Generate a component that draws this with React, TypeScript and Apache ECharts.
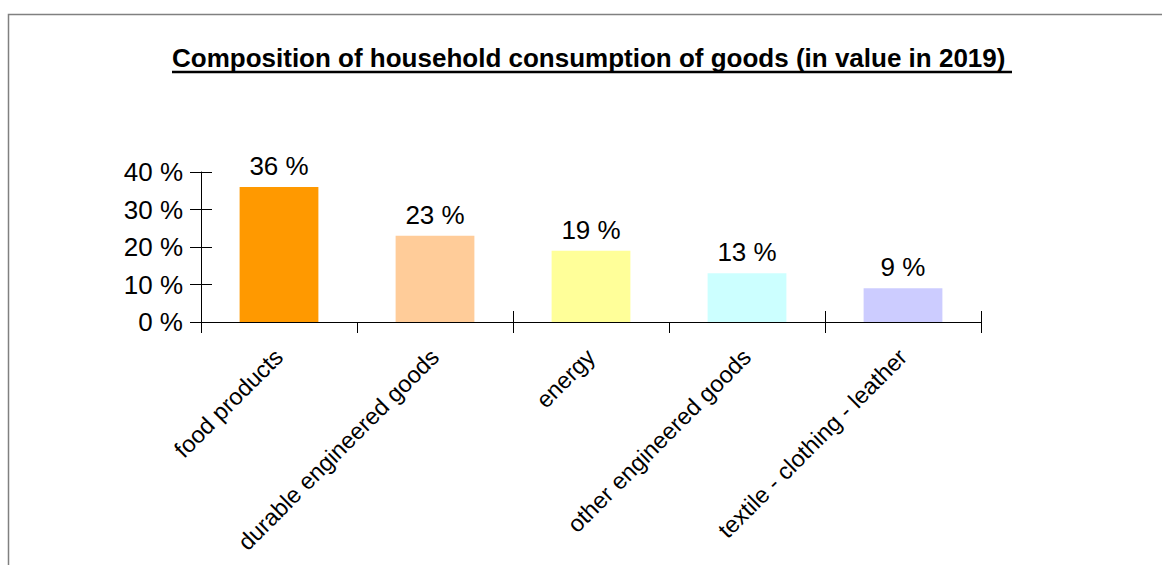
import React, { useEffect, useRef } from "react";
import * as echarts from "echarts";

const categories = [
  "food products",
  "durable engineered goods",
  "energy",
  "other engineered goods",
  "textile - clothing - leather",
];
const values = [36, 23, 19, 13, 9];
const barColors = ["#FF9900", "#FFCC99", "#FFFF99", "#CCFFFF", "#CCCCFF"];
const titleText = "Composition of household consumption of goods (in value in 2019) ";

const FONT = "Arial, 'Liberation Sans', Helvetica, sans-serif";

export default function App() {
  const ref = useRef<HTMLDivElement>(null);
  useEffect(() => {
    if (!ref.current) return;
    const chart = echarts.init(ref.current, undefined, { renderer: "svg" });
    const grid = { left: 201, right: 181, top: 172, bottom: 243 };
    chart.setOption({
      animation: false,
      backgroundColor: "#ffffff",
      title: {
        text: titleText,
        left: 172,
        top: 45,
        padding: 0,
        textStyle: { fontFamily: FONT, fontSize: 26, fontWeight: "bold", color: "#000" },
      },
      graphic: [
        {
          type: "rect",
          shape: { x: 8.5, y: 14.5, width: 1300, height: 700 },
          style: { fill: "none", stroke: "#808080", lineWidth: 1.5 },
          silent: true,
        },
        {
          type: "line",
          shape: { x1: 172, y1: 72, x2: 1012, y2: 72 },
          style: { stroke: "#000", lineWidth: 2.5 },
          silent: true,
        },
      ],
      grid,
      xAxis: [
        {
          type: "category",
          data: categories,
          boundaryGap: true,
          axisLine: { show: true, lineStyle: { color: "#000", width: 1 } },
          axisTick: { show: true, length: 11, alignWithLabel: false, lineStyle: { color: "#000" } },
          axisLabel: {
            rotate: 45,
            margin: 31,
            interval: 0,
            fontFamily: FONT,
            fontSize: 23.5,
            color: "#000",
          },
        },
        {
          type: "category",
          data: categories,
          position: "bottom",
          boundaryGap: true,
          axisLine: { show: false },
          axisTick: { show: true, inside: true, length: 11, lineStyle: { color: "#000" } },
          axisLabel: { show: false },
        },
      ],
      yAxis: [
        {
          type: "value",
          min: 0,
          max: 40,
          interval: 10,
          splitLine: { show: false },
          axisLine: { show: true, lineStyle: { color: "#000", width: 1 } },
          axisTick: { show: true, length: 11, lineStyle: { color: "#000" } },
          axisLabel: {
            margin: 18,
            formatter: "{value} %",
            fontFamily: FONT,
            fontSize: 26,
            color: "#000",
          },
        },
        {
          type: "value",
          min: 0,
          max: 40,
          interval: 10,
          position: "left",
          splitLine: { show: false },
          axisLine: { show: false },
          axisTick: { show: true, inside: true, length: 11, lineStyle: { color: "#000" } },
          axisLabel: { show: false },
        },
      ],
      series: [
        {
          type: "bar",
          data: values.map((v, i) => ({ value: v, itemStyle: { color: barColors[i] } })),
          barWidth: "50.5%",
          label: {
            show: true,
            position: "top",
            distance: 8,
            formatter: "{c} %",
            fontFamily: FONT,
            fontSize: 26,
            color: "#000",
          },
        },
      ],
    });
    return () => chart.dispose();
  }, []);
  return (
    <div
      ref={ref}
      style={{ position: "fixed", left: 0, top: 0, width: 1162, height: 565 }}
    />
  );
}
